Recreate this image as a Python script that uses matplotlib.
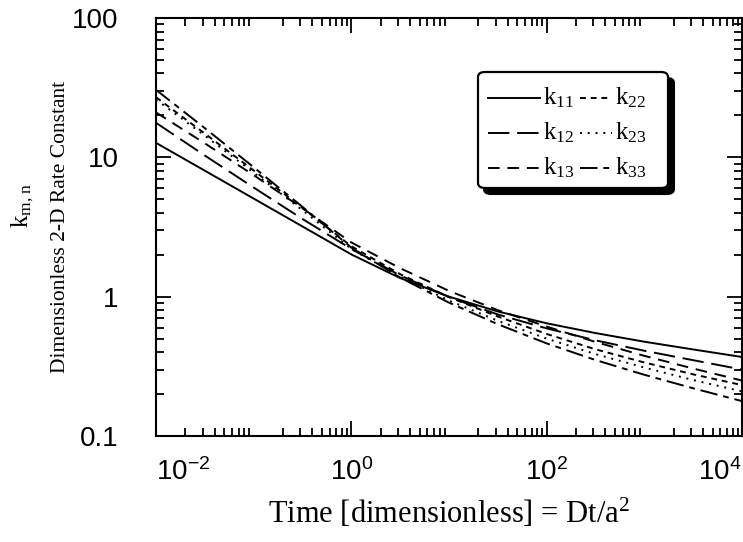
import numpy as np
import matplotlib
matplotlib.use("Agg")
import matplotlib.pyplot as plt
from matplotlib.ticker import FixedLocator, LogLocator, NullFormatter, FixedFormatter
from matplotlib.patches import FancyBboxPatch

plt.rcParams['mathtext.default'] = 'regular'

# Data, half-decade times
time = [1e-2, 10**-1.5, 1e-1, 10**-0.5, 1e0, 10**0.5, 1e1, 10**1.5, 1e2, 10**2.5, 1e3, 10**3.5, 1e4]
k11 = [12.7, 8.02, 5.06, 3.19, 2.01, 1.36, 1.0, 0.783, 0.644, 0.548, 0.475, 0.418, 0.369]
k12 = [17.7, 10.3, 6.07, 3.61, 2.20, 1.42, 0.993, 0.745, 0.592, 0.486, 0.409, 0.35, 0.30]
k13 = [21.0, 12.6, 7.45, 4.31, 2.45, 1.60, 1.10, 0.80, 0.61, 0.473, 0.376, 0.305, 0.25]
k22 = [27.0, 14.8, 8.05, 4.33, 2.30, 1.45, 0.993, 0.72, 0.54, 0.419, 0.337, 0.277, 0.232]
k23 = [26.0, 14.3, 7.76, 4.17, 2.20, 1.39, 0.938, 0.671, 0.50, 0.387, 0.31, 0.252, 0.209]
k33 = [30.5, 16.2, 8.49, 4.41, 2.25, 1.37, 0.906, 0.634, 0.462, 0.351, 0.275, 0.22, 0.178]

series_labels = ["k$_{11}$", "k$_{12}$", "k$_{13}$", "k$_{22}$", "k$_{23}$", "k$_{33}$"]
xtick_vals = [1e-2, 1e0, 1e2, 1e4]
xtick_labels = ["10$^{-2}$", "10$^{0}$", "10$^{2}$", "10$^{4}$"]
ytick_vals = [0.1, 1, 10, 100]
ytick_labels = ["0.1", "1", "10", "100"]

W, H = 743, 542
fig = plt.figure(figsize=(W / 100, H / 100), dpi=100)
ax = fig.add_axes([156 / W, 1 - 436 / H, 586 / W, 418 / H])

styles = [
    '-',
    (0, (11, 4)),
    (0, (6, 4)),
    (0, (3, 2.5)),
    (0, (1, 3)),
    (0, (9, 3, 3, 3)),
]
series = [k11, k12, k13, k22, k23, k33]
for ys, ls in zip(series, styles):
    ax.plot(time, ys, color='black', lw=1.4, linestyle=ls)

ax.set_xscale('log')
ax.set_yscale('log')
ax.set_xlim(1e-2, 1e4)
ax.set_ylim(0.1, 100)

sans = 'Liberation Sans'
serif = 'Liberation Serif'

ax.xaxis.set_major_locator(FixedLocator(xtick_vals))
ax.xaxis.set_major_formatter(FixedFormatter(xtick_labels))
ax.xaxis.set_minor_locator(LogLocator(base=10, subs=np.arange(2, 10), numticks=20))
ax.xaxis.set_minor_formatter(NullFormatter())
ax.yaxis.set_major_locator(FixedLocator(ytick_vals))
ax.yaxis.set_major_formatter(FixedFormatter(ytick_labels))
ax.yaxis.set_minor_locator(LogLocator(base=10, subs=np.arange(2, 10), numticks=20))
ax.yaxis.set_minor_formatter(NullFormatter())

ax.tick_params(which='both', direction='in', top=True, right=True, width=1.3, colors='black')
ax.tick_params(which='major', length=11)
ax.tick_params(which='minor', length=6)
ax.tick_params(axis='x', which='major', pad=16, labelsize=20)
ax.tick_params(axis='y', which='major', pad=27, labelsize=20)
for lbl in ax.get_xticklabels() + ax.get_yticklabels():
    lbl.set_fontfamily(sans)
xl = ax.get_xticklabels()
xl[0].set_horizontalalignment('left')
xl[-1].set_horizontalalignment('right')
for sp in ax.spines.values():
    sp.set_linewidth(1.5)

ax.set_xlabel("Time [dimensionless] = Dt/a$^2$", fontfamily=serif, fontsize=22, labelpad=8)
ax.set_ylabel("Dimensionless 2-D Rate Constant", fontfamily=serif, fontsize=15.5)
ax.yaxis.set_label_coords(-0.146, 0.5)
fig.text(23 / W, 1 - 206 / H, "k$_{m,n}$", rotation=90, fontfamily=serif, fontsize=18,
         ha='center', va='center')

# Legend (manual, axes-fraction coordinates)
def fx(px):
    return (px - 156) / 586

def fy(py):
    return (436 - py) / 418

bx0, bx1, by0, by1 = fx(478), fx(668), fy(188), fy(72)
shadow = FancyBboxPatch((bx0 + 6 / 586, by0 - 6 / 418), bx1 - bx0, by1 - by0,
                        boxstyle="round,pad=0,rounding_size=0.012", transform=ax.transAxes,
                        facecolor='black', edgecolor='black', lw=1.5, zorder=5)
box = FancyBboxPatch((bx0, by0), bx1 - bx0, by1 - by0,
                     boxstyle="round,pad=0,rounding_size=0.012", transform=ax.transAxes,
                     facecolor='white', edgecolor='black', lw=1.6, zorder=6)
ax.add_patch(shadow)
ax.add_patch(box)

rows = [98, 133, 168]
cols = [(488, 540, 543), (580, 612, 615)]
for i, (lab, ls) in enumerate(zip(series_labels, styles)):
    c, r = divmod(i, 3)
    x0, x1, xt = cols[c]
    ax.plot([fx(x0), fx(x1)], [fy(rows[r]), fy(rows[r])], transform=ax.transAxes,
            color='black', lw=1.4, linestyle=ls, zorder=7, clip_on=False)
    ax.text(fx(xt), fy(rows[r]), lab, transform=ax.transAxes, fontfamily=serif, fontsize=18,
            ha='left', va='center', zorder=7)

fig.savefig('out.png', dpi=100)
